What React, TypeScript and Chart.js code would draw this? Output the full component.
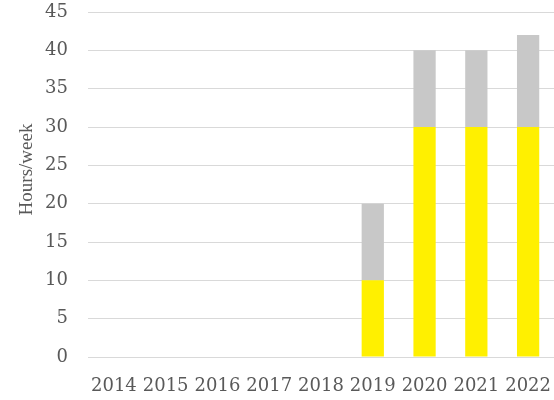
import React, { useEffect, useRef } from "react";
import { Chart, registerables } from "chart.js";

Chart.register(...registerables);

const years = ["2014", "2015", "2016", "2017", "2018", "2019", "2020", "2021", "2022"];
const yellowValues = [0, 0, 0, 0, 0, 10, 30, 30, 30];
const grayValues = [0, 0, 0, 0, 0, 10, 10, 10, 12];
const yMax = 45;
const yStep = 5;
const yTitle = "Hours/week";

export default function App() {
  const ref = useRef<HTMLCanvasElement>(null);
  useEffect(() => {
    document.body.style.margin = "0";
    const font = { family: "'DejaVu Serif', serif", size: 18 };
    const titlePlugin = {
      id: "yTitle",
      afterDraw(c: any) {
        const ctx = c.ctx;
        const area = c.chartArea;
        ctx.save();
        ctx.translate(27, (area.top + area.bottom) / 2 - 15);
        ctx.rotate(-Math.PI / 2);
        ctx.font = "19px 'Liberation Serif', serif";
        ctx.fillStyle = "#595959";
        ctx.textAlign = "center";
        ctx.textBaseline = "middle";
        ctx.fillText(yTitle, 0, 0);
        ctx.restore();
      },
    };
    const chart = new Chart(ref.current!, {
      type: "bar",
      data: {
        labels: years,
        datasets: [
          { data: yellowValues, backgroundColor: "#FFF000", borderWidth: 0, barPercentage: 0.43, categoryPercentage: 1 },
          { data: grayValues, backgroundColor: "#C8C8C8", borderWidth: 0, barPercentage: 0.43, categoryPercentage: 1 },
        ],
      },
      options: {
        animation: false,
        responsive: false,
        layout: { padding: 0 },
        plugins: { legend: { display: false }, tooltip: { enabled: false } },
        scales: {
          x: {
            stacked: true,
            grid: { display: false, drawTicks: false },
            border: { color: "#D9D9D9", width: 1 },
            ticks: { color: "#595959", font, padding: 19, maxRotation: 0, autoSkip: false },
            afterFit: (s: any) => {
              s.height = 43;
              s.paddingLeft = 0;
              s.paddingRight = 0;
            },
          },
          y: {
            stacked: true,
            min: 0,
            max: yMax,
            grid: { color: "#D9D9D9", lineWidth: 1, drawTicks: false },
            border: { display: false },
            ticks: { stepSize: yStep, color: "#595959", font, padding: 20 },
            afterFit: (s: any) => {
              s.width = 88;
              s.paddingTop = 12;
              s.paddingBottom = 0;
            },
          },
        },
      },
      plugins: [titlePlugin],
    });
    return () => chart.destroy();
  }, []);
  return <canvas ref={ref} width={554} height={400} style={{ display: "block" }} />;
}
